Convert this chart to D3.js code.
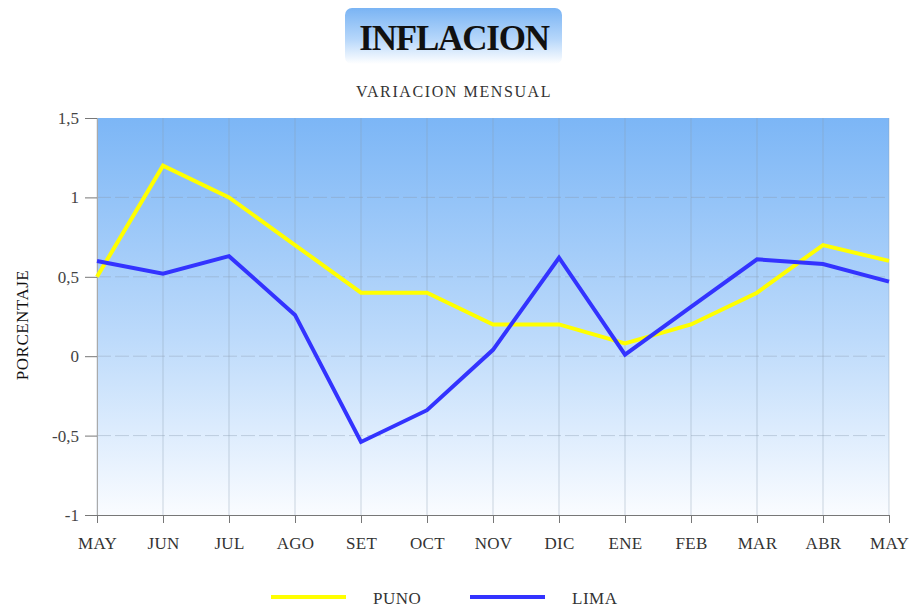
<!DOCTYPE html>
<html>
<head>
<meta charset="utf-8">
<script src="https://cdn.jsdelivr.net/npm/d3@7"></script>
<style>
  body { margin: 0; background: #fff; }
  text { font-family: "Liberation Serif", "DejaVu Serif", serif; }
</style>
</head>
<body>
<script>
'use strict'

// months along the x axis (May to May)
const months = ['MAY', 'JUN', 'JUL', 'AGO', 'SET', 'OCT', 'NOV', 'DIC', 'ENE', 'FEB', 'MAR', 'ABR', 'MAY']
// monthly inflation, percent
const puno = [0.5, 1.2, 1.0, 0.7, 0.4, 0.4, 0.2, 0.2, 0.08, 0.2, 0.4, 0.7, 0.6]
const lima = [0.6, 0.52, 0.63, 0.26, -0.54, -0.34, 0.04, 0.62, 0.01, 0.31, 0.61, 0.58, 0.47]
const yTicks = [-1, -0.5, 0, 0.5, 1, 1.5]
const seriesNames = ['PUNO', 'LIMA']
const seriesColors = ['#ffff00', '#3333ff']

const W = 916, H = 609
const plot = { left: 97, right: 889, top: 118, bottom: 515 }

const svg = d3.select('body').append('svg')
    .attr('width', W)
    .attr('height', H)

const defs = svg.append('defs')
// plot background: blue on top fading to white
const bg = defs.append('linearGradient').attr('id', 'bg')
    .attr('x1', 0).attr('y1', 0).attr('x2', 0).attr('y2', 1)
bg.append('stop').attr('offset', '0%').attr('stop-color', '#7cb6f6')
bg.append('stop').attr('offset', '55%').attr('stop-color', '#bcdafb')
bg.append('stop').attr('offset', '100%').attr('stop-color', '#fafcff')

const tg = defs.append('linearGradient').attr('id', 'titlebg')
    .attr('x1', 0).attr('y1', 0).attr('x2', 0).attr('y2', 1)
tg.append('stop').attr('offset', '0%').attr('stop-color', '#7ab4f4')
tg.append('stop').attr('offset', '55%').attr('stop-color', '#b5d6fa')
tg.append('stop').attr('offset', '100%').attr('stop-color', '#ffffff')

const x = d3.scalePoint()
    .domain(d3.range(months.length))
    .range([plot.left, plot.right])

const y = d3.scaleLinear()
    .domain([-1, 1.5])
    .range([plot.bottom, plot.top])

// title box
svg.append('rect')
    .attr('x', 345).attr('y', 8)
    .attr('width', 217).attr('height', 56)
    .attr('rx', 7)
    .attr('fill', 'url(#titlebg)')

svg.append('text')
    .attr('x', 454).attr('y', 50)
    .attr('text-anchor', 'middle')
    .attr('font-size', 35)
    .attr('font-weight', 'bold')
    .attr('letter-spacing', -1.2)
    .attr('fill', '#111')
    .text('INFLACION')

svg.append('text')
    .attr('x', 454).attr('y', 97)
    .attr('text-anchor', 'middle')
    .attr('font-size', 16)
    .attr('letter-spacing', 1.6)
    .attr('fill', '#333')
    .text('VARIACION MENSUAL')

// background
svg.append('rect')
    .attr('x', plot.left).attr('y', plot.top)
    .attr('width', plot.right - plot.left)
    .attr('height', plot.bottom - plot.top)
    .attr('fill', 'url(#bg)')

// vertical grid
svg.append('g')
    .selectAll('line')
    .data(d3.range(months.length))
    .join('line')
    .attr('x1', d => x(d)).attr('x2', d => x(d))
    .attr('y1', plot.top).attr('y2', plot.bottom)
    .attr('stroke', '#8a9bb0')
    .attr('stroke-opacity', 0.4)
    .attr('stroke-width', 1)

// horizontal grid
svg.append('g')
    .selectAll('line')
    .data(yTicks.filter(v => v > -1 && v < 1.5))
    .join('line')
    .attr('x1', plot.left).attr('x2', plot.right)
    .attr('y1', d => y(d)).attr('y2', d => y(d))
    .attr('stroke', '#8a9bb0')
    .attr('stroke-opacity', 0.4)
    .attr('stroke-dasharray', '14,4')

// y axis
const yAxis = svg.append('g')
    .attr('transform', `translate(${plot.left},0)`)
    .call(d3.axisLeft(y).tickValues(yTicks).tickSize(12).tickPadding(6)
        .tickFormat(d => String(d).replace('.', ',')))
yAxis.select('.domain').attr('stroke', '#aaa')
yAxis.selectAll('.tick line').attr('stroke', '#777')
yAxis.selectAll('text').attr('font-size', 17).attr('fill', '#444')
    .attr('font-family', '"Liberation Serif", serif')

// x axis
const xAxis = svg.append('g')
    .attr('transform', `translate(0,${plot.bottom})`)
    .call(d3.axisBottom(x).tickSize(8).tickPadding(14)
        .tickFormat(i => months[i]))
xAxis.select('.domain').attr('stroke', '#777')
xAxis.selectAll('.tick line').attr('stroke', '#777')
xAxis.selectAll('text').attr('font-size', 17).attr('fill', '#333')
    .attr('letter-spacing', 0.3)
    .attr('font-family', '"Liberation Serif", serif')

// y axis title
svg.append('text')
    .attr('transform', 'translate(28,325) rotate(-90)')
    .attr('text-anchor', 'middle')
    .attr('font-size', 17)
    .attr('letter-spacing', 0.5)
    .attr('fill', '#111')
    .text('PORCENTAJE')

// lines
const line = d3.line()
    .x((d, i) => x(i))
    .y(d => y(d))

const series = [puno, lima]
series.forEach((vals, k) => {
    svg.append('path')
        .datum(vals)
        .attr('d', line)
        .attr('fill', 'none')
        .attr('stroke', seriesColors[k])
        .attr('stroke-width', 4)
        .attr('stroke-linejoin', 'miter')
})

// legend
const legend = svg.append('g')
const legX = [271, 470]
seriesNames.forEach((name, k) => {
    legend.append('line')
        .attr('x1', legX[k]).attr('x2', legX[k] + 75)
        .attr('y1', 597).attr('y2', 597)
        .attr('stroke', seriesColors[k])
        .attr('stroke-width', 4)
    legend.append('text')
        .attr('x', legX[k] + 102).attr('y', 604)
        .attr('font-size', 17)
        .attr('letter-spacing', 0.5)
        .attr('fill', '#333')
        .text(name)
})
</script>
</body>
</html>
